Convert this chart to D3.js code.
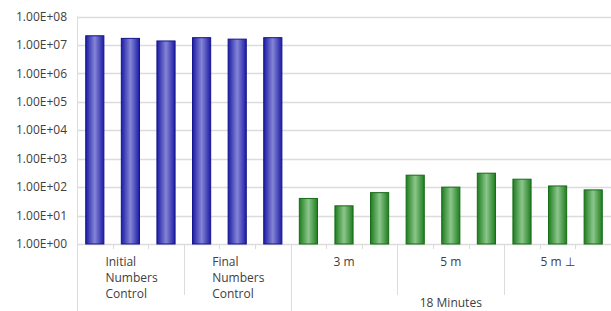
<!DOCTYPE html>
<html>
<head>
<meta charset="utf-8">
<script src="https://cdn.jsdelivr.net/npm/d3@7"></script>
<style>
  body { margin: 0; background: #fff; }
  text { font-family: "Open Sans", "Lato", sans-serif; fill: #404040; }
</style>
</head>
<body>
<svg id="chart" width="611" height="311"></svg>
<script>
// data
var bars = ['i1', 'i2', 'i3', 'f1', 'f2', 'f3', 'a1', 'a2', 'a3', 'b1', 'b2', 'b3', 'c1', 'c2', 'c3'];
var values = [2.1e7, 1.7e7, 1.38e7, 1.8e7, 1.6e7, 1.8e7, 40, 22, 64, 263, 100, 309, 190, 110, 80];
var seriesOf = ['control', 'control', 'control', 'control', 'control', 'control',
  'test', 'test', 'test', 'test', 'test', 'test', 'test', 'test', 'test'];
var groups = [['Initial', 'Numbers', 'Control'], ['Final', 'Numbers', 'Control'], ['3 m'], ['5 m'], ['5 m \u22A5']];
var outerGroup = '18 Minutes';
var yTicks = [1, 10, 100, 1e3, 1e4, 1e5, 1e6, 1e7, 1e8];

var svg = d3.select('#chart');
var plotLeft = 77, plotRight = 611, plotTop = 16.5, plotBottom = 244;

var x = d3.scaleBand().domain(bars).range([plotLeft, plotRight]).paddingInner(0.49).paddingOuter(0.245);
var y = d3.scaleLog().domain([1, 1e8]).range([plotBottom, plotTop]);
var step = x.step();

function sci(d) {
  var e = Math.round(Math.log10(d));
  return '1.00E+' + (e < 10 ? '0' + e : e);
}

var defs = svg.append('defs');
function grad(id, edge, mid) {
  var g = defs.append('linearGradient').attr('id', id).attr('x1', 0).attr('x2', 1).attr('y1', 0).attr('y2', 0);
  g.append('stop').attr('offset', '0%').attr('stop-color', edge);
  g.append('stop').attr('offset', '50%').attr('stop-color', mid);
  g.append('stop').attr('offset', '100%').attr('stop-color', edge);
}
grad('gControl', '#1c1ca6', '#8585d6');
grad('gTest', '#1f7d1f', '#8cc68c');

// gridlines
svg.append('g').selectAll('line')
  .data(yTicks)
  .enter()
  .append('line')
  .attr('x1', plotLeft)
  .attr('x2', plotRight)
  .attr('y1', function(d) { return Math.round(y(d)) + 0.5; })
  .attr('y2', function(d) { return Math.round(y(d)) + 0.5; })
  .attr('stroke', '#dcdcdc')
  .attr('stroke-width', 1.5);

// y axis labels
svg.append('g').selectAll('text')
  .data(yTicks)
  .enter()
  .append('text')
  .attr('x', 67)
  .attr('y', function(d) { return y(d); })
  .attr('dy', '0.35em')
  .attr('text-anchor', 'end')
  .style('font-size', '12px')
  .text(sci);

// left axis line
svg.append('line')
  .attr('x1', plotLeft + 0.5).attr('x2', plotLeft + 0.5)
  .attr('y1', plotTop).attr('y2', 311)
  .attr('stroke', '#dcdcdc');

// bars
svg.append('g').selectAll('rect')
  .data(values)
  .enter()
  .append('rect')
  .attr('x', function(d, i) { return x(bars[i]); })
  .attr('width', x.bandwidth())
  .attr('y', function(d) { return y(d); })
  .attr('height', function(d) { return plotBottom - y(d); })
  .attr('fill', function(d, i) { return seriesOf[i] === 'control' ? 'url(#gControl)' : 'url(#gTest)'; })
  .attr('stroke', function(d, i) { return seriesOf[i] === 'control' ? '#14148c' : '#176a17'; })
  .attr('stroke-width', 1);

// small category ticks
svg.append('g').selectAll('line')
  .data(bars.slice(1))
  .enter()
  .append('line')
  .attr('x1', function(d) { return Math.round(x(d) - (step - x.bandwidth()) / 2) + 0.5; })
  .attr('x2', function(d) { return Math.round(x(d) - (step - x.bandwidth()) / 2) + 0.5; })
  .attr('y1', plotBottom)
  .attr('y2', plotBottom + 5)
  .attr('stroke', '#dcdcdc');

// group separators
var groupEdges = [3, 6, 9, 12];
svg.append('g').selectAll('line')
  .data(groupEdges)
  .enter()
  .append('line')
  .attr('x1', function(d) { return Math.round(plotLeft + d * step) + 0.5; })
  .attr('x2', function(d) { return Math.round(plotLeft + d * step) + 0.5; })
  .attr('y1', plotBottom)
  .attr('y2', function(d) { return d === 6 ? 311 : 295; })
  .attr('stroke', '#dcdcdc');

// group labels
groups.forEach(function(lines, gi) {
  var cx = plotLeft + (gi * 3 + 1.5) * step;
  var multi = lines.length > 1;
  var t = svg.append('text')
    .attr('y', 266)
    .attr('text-anchor', multi ? 'start' : 'middle')
    .style('font-size', '12px');
  lines.forEach(function(l, li) {
    t.append('tspan')
      .attr('x', multi ? cx - 25 : cx)
      .attr('dy', li === 0 ? 0 : 16)
      .text(l);
  });
});

// outer group label
svg.append('text')
  .attr('x', (plotLeft + 6 * step + plotRight) / 2)
  .attr('y', 307)
  .attr('text-anchor', 'middle')
  .style('font-size', '12px')
  .text(outerGroup);
</script>
</body>
</html>
